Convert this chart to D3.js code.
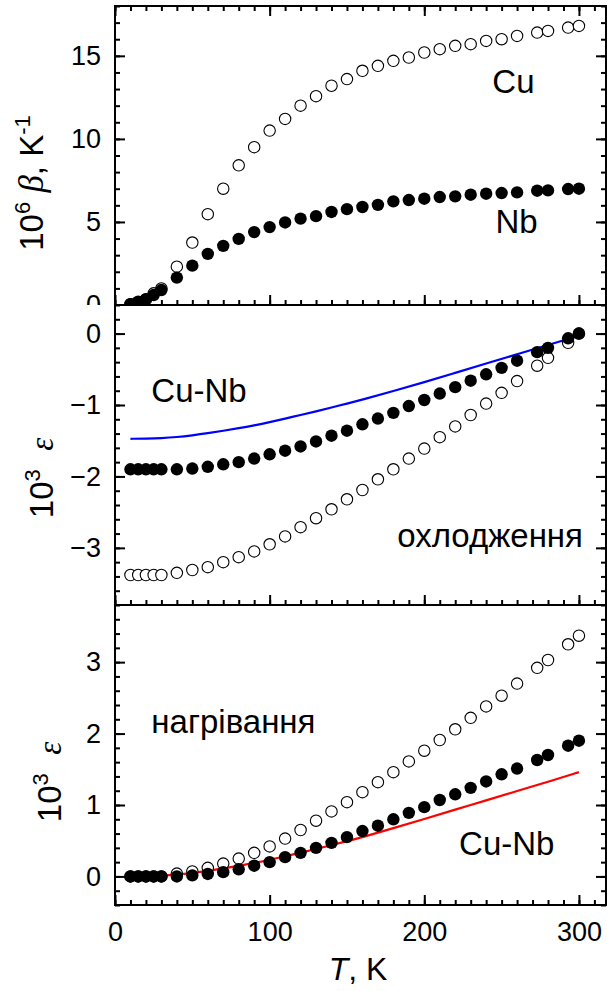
<!DOCTYPE html>
<html>
<head>
<meta charset="utf-8">
<script src="https://cdn.jsdelivr.net/npm/d3@7"></script>
<style>
  html, body { margin: 0; padding: 0; background: #fff; }
  svg { display: block; }
  text { font-family: "Liberation Sans", Arial, sans-serif; fill: #000; }
</style>
</head>
<body>
<svg id="chart" width="607" height="991"></svg>
<script>
// Measurement temperatures, K
const temperature = [10, 15, 20, 25, 30, 40, 50, 60, 70, 80, 90, 100, 110, 120, 130, 140, 150,
  160, 170, 180, 190, 200, 210, 220, 230, 240, 250, 260, 273, 280, 293, 300];

// Thermal expansion coefficient, 10^6 beta (1/K)
const betaCu = [0.05, 0.15, 0.35, 0.7, 1.0, 2.31, 3.76, 5.47, 7.0, 8.41, 9.5, 10.5, 11.2, 12.0,
  12.57, 13.2, 13.6, 14.1, 14.4, 14.7, 14.9, 15.2, 15.4, 15.6, 15.7, 15.9, 16.0, 16.2, 16.4, 16.5, 16.7, 16.8];
const betaNb = [0.05, 0.2, 0.34, 0.6, 0.9, 1.65, 2.37, 3.08, 3.56, 3.98, 4.39, 4.69, 4.97, 5.2,
  5.35, 5.6, 5.77, 5.9, 6.03, 6.24, 6.32, 6.4, 6.5, 6.54, 6.64, 6.7, 6.74, 6.78, 6.88, 6.9, 6.98, 7.0];

// Strain on cooling, 10^3 eps
const coolCu = [-3.38, -3.38, -3.38, -3.38, -3.38, -3.35, -3.31, -3.27, -3.20, -3.13, -3.05, -2.95,
  -2.84, -2.71, -2.585, -2.46, -2.32, -2.19, -2.04, -1.90, -1.75, -1.61, -1.45, -1.30, -1.14, -0.98,
  -0.83, -0.665, -0.45, -0.34, -0.13, 0];
const coolNb = [-1.9, -1.9, -1.9, -1.9, -1.9, -1.9, -1.89, -1.865, -1.83, -1.80, -1.75, -1.69,
  -1.64, -1.58, -1.51, -1.43, -1.36, -1.27, -1.19, -1.11, -1.015, -0.93, -0.84, -0.75, -0.66, -0.57,
  -0.48, -0.38, -0.26, -0.20, -0.066, 0];

// Strain on heating, 10^3 eps
const heatCu = [0, 0, 0, 0, 0, 0.04, 0.07, 0.12, 0.18, 0.25, 0.33, 0.42, 0.53, 0.65, 0.78, 0.91,
  1.04, 1.18, 1.32, 1.46, 1.61, 1.76, 1.91, 2.06, 2.22, 2.38, 2.53, 2.70, 2.92, 3.03, 3.25, 3.37];
const heatNb = [0, 0, 0, 0, 0, 0, 0.015, 0.035, 0.06, 0.10, 0.15, 0.20, 0.27, 0.33, 0.40, 0.47,
  0.55, 0.635, 0.71, 0.80, 0.89, 0.97, 1.07, 1.15, 1.24, 1.33, 1.43, 1.51, 1.63, 1.70, 1.83, 1.90];

// Cu-Nb composite curves
const compositeT = [10, 20, 30, 40, 50, 60, 70, 80, 90, 100, 110, 120, 130, 140, 150, 160, 180,
  200, 220, 240, 260, 280, 300];
const coolCuNb = [-1.473, -1.471, -1.465, -1.45, -1.425, -1.395, -1.36, -1.325, -1.285, -1.24, -1.19,
  -1.14, -1.09, -1.035, -0.98, -0.925, -0.805, -0.68, -0.55, -0.42, -0.29, -0.16, -0.03];
const heatCuNb = [0, 0.002, 0.008, 0.023, 0.048, 0.078, 0.113, 0.148, 0.188, 0.233, 0.283, 0.333,
  0.383, 0.438, 0.493, 0.55, 0.675, 0.805, 0.935, 1.065, 1.195, 1.325, 1.46];

const xTicks = [0, 100, 200, 300];

const svg = d3.select("#chart");
const W = 607;
const left = 115, right = 606;
const x = d3.scaleLinear().domain([0, 317.5]).range([left, right]);

const rng = (a, b, s) => d3.range(Math.round((b - a) / s) + 1).map(i => +(a + i * s).toFixed(6));

const panels = [
  { top: 6, bottom: 305, domain: [0, 18], major: [0, 5, 10, 15], minor: rng(0, 18, 1),
    open: betaCu, filled: betaNb, topTicks: true, title: "beta", titleX: 43, titleY: 183 },
  { top: 305, bottom: 605, domain: [-3.8, 0.4], major: [-3, -2, -1, 0], minor: rng(-3.8, 0.4, 0.2),
    open: coolCu, filled: coolNb, line: coolCuNb, lineColor: "#0000ff", title: "eps", titleX: 53, titleY: 478 },
  { top: 605, bottom: 905, domain: [-0.4, 3.8], major: [0, 1, 2, 3], minor: rng(-0.4, 3.8, 0.2),
    open: heatCu, filled: heatNb, line: heatCuNb, lineColor: "#ff0000", title: "eps", titleX: 61, titleY: 782,
    xLabels: true }
];

panels.forEach(p => {
  const y = d3.scaleLinear().domain(p.domain).range([p.bottom, p.top]);
  p.y = y;
  const g = svg.append("g");

  // layer background hides overflow of the layer above
  g.append("rect").attr("x", 0).attr("y", p.top).attr("width", W).attr("height", p.bottom - p.top)
    .attr("fill", "#fff");

  // y axes (left with labels, right ticks only), ticks pointing inward
  g.append("g").attr("transform", `translate(${left},0)`)
    .call(d3.axisLeft(y).tickValues(p.major).tickSize(-10).tickPadding(14).tickFormat(d3.format("d")));
  g.append("g").attr("transform", `translate(${left},0)`)
    .call(d3.axisLeft(y).tickValues(p.minor).tickSize(-5).tickFormat(""));
  g.append("g").attr("transform", `translate(${right},0)`)
    .call(d3.axisRight(y).tickValues(p.major).tickSize(-10).tickFormat(""));
  g.append("g").attr("transform", `translate(${right},0)`)
    .call(d3.axisRight(y).tickValues(p.minor).tickSize(-5).tickFormat(""));

  // x ticks on the bottom edge (and the top edge for the first layer)
  g.append("g").attr("transform", `translate(0,${p.bottom})`)
    .call(d3.axisBottom(x).tickValues(xTicks).tickSize(-10).tickPadding(17)
      .tickFormat(p.xLabels ? d3.format("d") : ""));
  g.append("g").attr("transform", `translate(0,${p.bottom})`)
    .call(d3.axisBottom(x).tickValues(rng(0, 310, 10)).tickSize(-5).tickFormat(""));
  if (p.topTicks) {
    g.append("g").attr("transform", `translate(0,${p.top})`)
      .call(d3.axisTop(x).tickValues(xTicks).tickSize(-10).tickFormat(""));
    g.append("g").attr("transform", `translate(0,${p.top})`)
      .call(d3.axisTop(x).tickValues(rng(0, 310, 10)).tickSize(-5).tickFormat(""));
  }

  g.selectAll(".domain").remove();
  g.selectAll(".tick line").attr("stroke", "#000").attr("stroke-width", 2);
  g.selectAll(".tick text").style("font-size", "27px").attr("fill", "#000")
    .style("font-family", "'Liberation Sans', Arial, sans-serif");

  // frame
  g.append("rect").attr("x", left).attr("y", p.top).attr("width", right - left)
    .attr("height", p.bottom - p.top).attr("fill", "none").attr("stroke", "#000").attr("stroke-width", 2);

  // composite curve
  if (p.line) {
    g.append("path")
      .datum(compositeT.map((t, i) => [t, p.line[i]]))
      .attr("fill", "none").attr("stroke", p.lineColor).attr("stroke-width", 2.2)
      .attr("d", d3.line().x(d => x(d[0])).y(d => y(d[1])).curve(d3.curveBasis));
  }

  // Cu: open circles, Nb: filled circles
  g.append("g").selectAll("circle").data(temperature.map((t, i) => [t, p.open[i]])).join("circle")
    .attr("cx", d => x(d[0])).attr("cy", d => y(d[1])).attr("r", 5.7)
    .attr("fill", "#fff").attr("stroke", "#000").attr("stroke-width", 1.1);
  g.append("g").selectAll("circle").data(temperature.map((t, i) => [t, p.filled[i]])).join("circle")
    .attr("cx", d => x(d[0])).attr("cy", d => y(d[1])).attr("r", 6.2).attr("fill", "#000");

  // y title
  const t = g.append("text").attr("transform", `translate(${p.titleX},${p.titleY}) rotate(-90)`)
    .attr("text-anchor", "middle").style("font-size", "33px");
  t.append("tspan").text("10");
  if (p.title === "beta") {
    t.append("tspan").attr("dy", -13).style("font-size", "22px").text("6");
    t.append("tspan").attr("dy", 13).text(" ");
    t.append("tspan").style("font-family", "'Liberation Serif', serif").style("font-style", "italic")
      .style("font-size", "35px").text("β");
    t.append("tspan").text(", K");
    t.append("tspan").attr("dy", -13).style("font-size", "22px").text("-1");
  } else {
    t.append("tspan").attr("dy", -13).style("font-size", "22px").text("3");
    t.append("tspan").attr("dy", 13).text("\u00a0\u00a0");
    t.append("tspan").style("font-family", "'Liberation Serif', serif").style("font-style", "italic")
      .style("font-size", "33px").text("ε");
  }
});

// in-plot annotations
const label = (p, tx, ty, s) => svg.append("text").attr("x", x(tx)).attr("y", p.y(ty))
  .style("font-size", "33px").text(s);
label(panels[0], 244, 12.76, "Cu");
label(panels[0], 246, 4.33, "Nb");
label(panels[1], 23.5, -0.954, "Cu-Nb");
label(panels[1], 182.5, -2.984, "охлодження");
label(panels[2], 23.5, 2.004, "нагрівання");
label(panels[2], 222.5, 0.30, "Cu-Nb");

// x title
const xt = svg.append("text").attr("x", 358).attr("y", 980).attr("text-anchor", "middle")
  .style("font-size", "32px");
xt.append("tspan").style("font-style", "italic").text("T");
xt.append("tspan").text(", K");
</script>
</body>
</html>
